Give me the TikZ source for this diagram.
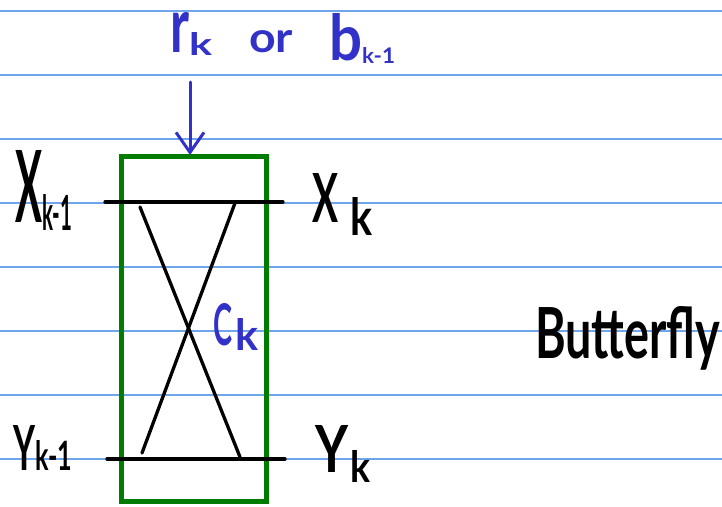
\documentclass[tikz,border=0pt]{standalone}
\usepackage{fontspec}
\setmainfont{Lato}
\usetikzlibrary{arrows.meta}
\definecolor{inkblue}{RGB}{50,50,200}
\definecolor{rulecol}{RGB}{110,165,235}
\definecolor{boxgreen}{RGB}{0,125,0}
% piece of handwriting: width, height (pt), text
\newcommand{\pc}[3]{\resizebox{#1pt}{#2pt}{#3}}
% lowered piece: drop, width, height, text
\newcommand{\lpc}[4]{\raisebox{-#1pt}{\resizebox{#2pt}{#3pt}{#4}}}
\tikzset{
  rule/.style={rulecol, line width=1.2pt},
  wire/.style={black, line width=3.3pt, line cap=round},
  blackhand/.style={inner sep=0pt, outer sep=0pt, anchor=base west, text=black, font=\bfseries},
  bluehand/.style={inner sep=0pt, outer sep=0pt, anchor=base west, text=inkblue, font=\bfseries},
  greenbox/.style={draw=boxgreen, line width=5pt, minimum width=145pt, minimum height=345pt, inner sep=0pt},
  inarrow/.style={inkblue, line width=3pt, line cap=round, -{Straight Barb[length=20pt,width=28pt,line width=3pt]}}
}
\begin{document}
\begin{tikzpicture}[x=1pt,y=-1pt]
\useasboundingbox (0,0) rectangle (722,506);
% ruled paper
\foreach \yy in {11,75,139,203,267,331,395,459}
  \draw[rule] (0,\yy) -- (722,\yy);
% box
\node[greenbox] (box) at (193.5,328.5) {};
% wires
\coordinate (tl) at (105,202);
\coordinate (tr) at (283,202);
\coordinate (bl) at (107,459);
\coordinate (br) at (285,459);
\coordinate (d1a) at (140,207);
\coordinate (d1b) at (240,457);
\coordinate (d2a) at (235,203);
\coordinate (d2b) at (142,453);
\draw[wire] (tl) -- (tr);
\draw[wire] (bl) -- (br);
\draw[wire] (d1a) -- (d1b);
\draw[wire] (d2a) -- (d2b);
% input label and arrow
\node[bluehand] (lab) at (170,52) {\pc{19}{40}{r}\lpc{3}{23}{23}{k}\hspace{37pt}\pc{44}{22}{or}\hspace{36pt}\lpc{8}{33}{47}{b}\lpc{11}{33}{16}{k-1}};
\coordinate (astart) at (190,82);
\coordinate (aend) at (190,155);
\draw[inarrow] (astart) -- (aend);
% labels
\node[blackhand] (xkm) at (15,222) {\pc{27}{72}{X}\lpc{8}{30}{36}{k-1}};
\node[blackhand] (xk) at (312,222) {\pc{26}{49}{X}\hspace{12pt}\lpc{13}{22}{38}{k}};
\node[blackhand] (ykm) at (13,470) {\pc{22}{45}{Y}\lpc{0}{37}{30}{k-1}};
\node[blackhand] (yk) at (315,472) {\pc{33}{47}{Y}\hspace{2pt}\lpc{10}{20}{32}{k}};
\node[bluehand] (ck) at (213,345) {\pc{19}{42}{C}\hspace{3pt}\lpc{5}{23}{32}{k}};
\node[blackhand] (bfly) at (535,358) {\pc{185}{52}{Butterfly}};
\end{tikzpicture}
\end{document}
